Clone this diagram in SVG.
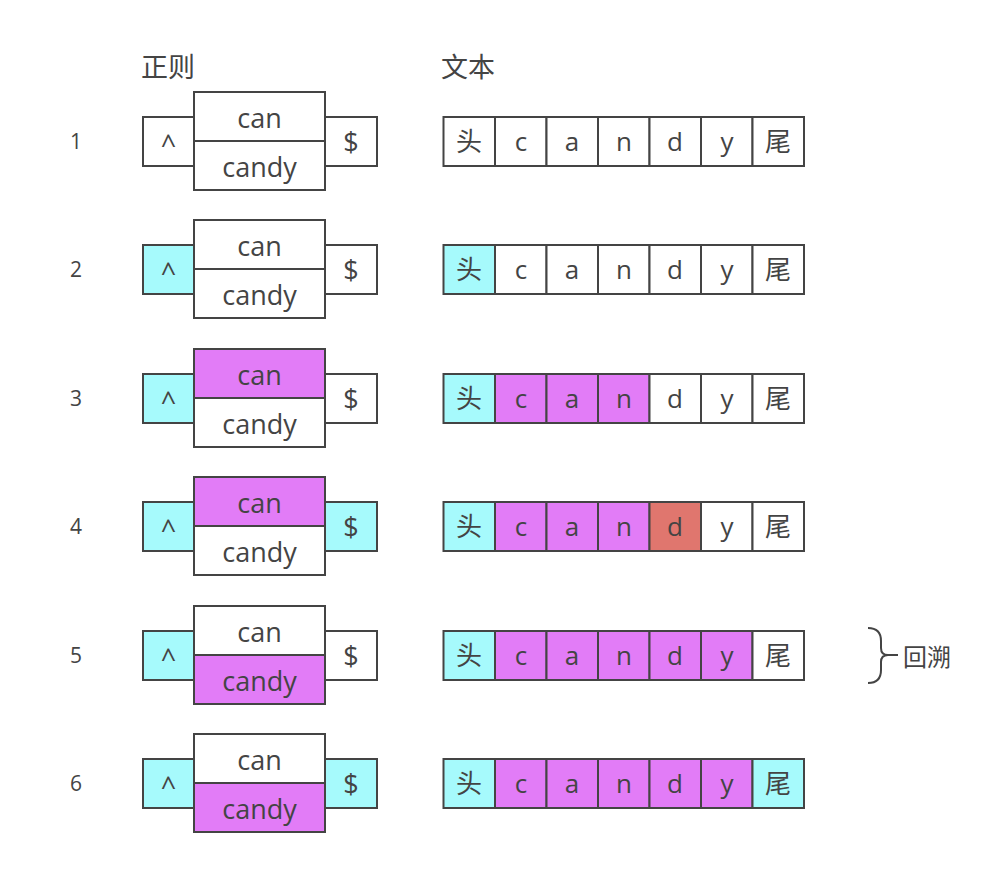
<svg xmlns="http://www.w3.org/2000/svg" width="1004" height="878" viewBox="0 0 1004 878">
<style>
.b{stroke:#444;stroke-width:2;fill:#fff}
.c{fill:#a6fafc}
.m{fill:#e27cf7}
.r{fill:#e0766e}
text{font-family:"Open Sans","Noto Sans CJK SC",sans-serif;fill:#444;text-anchor:middle;dominant-baseline:central}
.t{font-size:27px}
.x{font-size:26px}
.n{font-size:21px}
.h{font-size:27px;text-anchor:start}
.k{font-size:24px;text-anchor:start}
</style>
<rect width="1004" height="878" fill="#fff"/>
<text class="h" x="141" y="66">正则</text>
<text class="h" x="441" y="66">文本</text>

<g id="row1">
<text class="n" x="76" y="141">1</text>
<rect class="b" x="143" y="117" width="51" height="49"/>
<rect class="b" x="325" y="117" width="52" height="49"/>
<rect class="b" x="194" y="92" width="131" height="49"/>
<rect class="b" x="194" y="141" width="131" height="49"/>
<text class="t" x="168.5" y="143">^</text>
<text class="t" x="259.5" y="117">can</text>
<text class="t" x="259.5" y="166">candy</text>
<text class="t" x="351" y="141">$</text>
<rect class="b" x="443.5" y="117" width="51.5" height="49"/><rect class="b" x="495" y="117" width="51.5" height="49"/><rect class="b" x="546.5" y="117" width="51.5" height="49"/><rect class="b" x="598" y="117" width="51.5" height="49"/><rect class="b" x="649.5" y="117" width="51.5" height="49"/><rect class="b" x="701" y="117" width="51.5" height="49"/><rect class="b" x="752.5" y="117" width="51.5" height="49"/>
<text class="x" x="469" y="141">头</text><text class="x" x="521" y="141">c</text><text class="x" x="572" y="141">a</text><text class="x" x="624" y="141">n</text><text class="x" x="675" y="141">d</text><text class="x" x="727" y="141">y</text><text class="x" x="778" y="141">尾</text>
</g>

<g id="row2" transform="translate(0,128)">
<text class="n" x="76" y="141">2</text>
<rect class="b c" x="143" y="117" width="51" height="49"/>
<rect class="b" x="325" y="117" width="52" height="49"/>
<rect class="b" x="194" y="92" width="131" height="49"/>
<rect class="b" x="194" y="141" width="131" height="49"/>
<text class="t" x="168.5" y="143">^</text>
<text class="t" x="259.5" y="117">can</text>
<text class="t" x="259.5" y="166">candy</text>
<text class="t" x="351" y="141">$</text>
<rect class="b c" x="443.5" y="117" width="51.5" height="49"/><rect class="b" x="495" y="117" width="51.5" height="49"/><rect class="b" x="546.5" y="117" width="51.5" height="49"/><rect class="b" x="598" y="117" width="51.5" height="49"/><rect class="b" x="649.5" y="117" width="51.5" height="49"/><rect class="b" x="701" y="117" width="51.5" height="49"/><rect class="b" x="752.5" y="117" width="51.5" height="49"/>
<text class="x" x="469" y="141">头</text><text class="x" x="521" y="141">c</text><text class="x" x="572" y="141">a</text><text class="x" x="624" y="141">n</text><text class="x" x="675" y="141">d</text><text class="x" x="727" y="141">y</text><text class="x" x="778" y="141">尾</text>
</g>

<g id="row3" transform="translate(0,257)">
<text class="n" x="76" y="141">3</text>
<rect class="b c" x="143" y="117" width="51" height="49"/>
<rect class="b" x="325" y="117" width="52" height="49"/>
<rect class="b m" x="194" y="92" width="131" height="49"/>
<rect class="b" x="194" y="141" width="131" height="49"/>
<text class="t" x="168.5" y="143">^</text>
<text class="t" x="259.5" y="117">can</text>
<text class="t" x="259.5" y="166">candy</text>
<text class="t" x="351" y="141">$</text>
<rect class="b c" x="443.5" y="117" width="51.5" height="49"/><rect class="b m" x="495" y="117" width="51.5" height="49"/><rect class="b m" x="546.5" y="117" width="51.5" height="49"/><rect class="b m" x="598" y="117" width="51.5" height="49"/><rect class="b" x="649.5" y="117" width="51.5" height="49"/><rect class="b" x="701" y="117" width="51.5" height="49"/><rect class="b" x="752.5" y="117" width="51.5" height="49"/>
<text class="x" x="469" y="141">头</text><text class="x" x="521" y="141">c</text><text class="x" x="572" y="141">a</text><text class="x" x="624" y="141">n</text><text class="x" x="675" y="141">d</text><text class="x" x="727" y="141">y</text><text class="x" x="778" y="141">尾</text>
</g>

<g id="row4" transform="translate(0,385)">
<text class="n" x="76" y="141">4</text>
<rect class="b c" x="143" y="117" width="51" height="49"/>
<rect class="b c" x="325" y="117" width="52" height="49"/>
<rect class="b m" x="194" y="92" width="131" height="49"/>
<rect class="b" x="194" y="141" width="131" height="49"/>
<text class="t" x="168.5" y="143">^</text>
<text class="t" x="259.5" y="117">can</text>
<text class="t" x="259.5" y="166">candy</text>
<text class="t" x="351" y="141">$</text>
<rect class="b c" x="443.5" y="117" width="51.5" height="49"/><rect class="b m" x="495" y="117" width="51.5" height="49"/><rect class="b m" x="546.5" y="117" width="51.5" height="49"/><rect class="b m" x="598" y="117" width="51.5" height="49"/><rect class="b r" x="649.5" y="117" width="51.5" height="49"/><rect class="b" x="701" y="117" width="51.5" height="49"/><rect class="b" x="752.5" y="117" width="51.5" height="49"/>
<text class="x" x="469" y="141">头</text><text class="x" x="521" y="141">c</text><text class="x" x="572" y="141">a</text><text class="x" x="624" y="141">n</text><text class="x" x="675" y="141">d</text><text class="x" x="727" y="141">y</text><text class="x" x="778" y="141">尾</text>
</g>

<g id="row5" transform="translate(0,514)">
<text class="n" x="76" y="141">5</text>
<rect class="b c" x="143" y="117" width="51" height="49"/>
<rect class="b" x="325" y="117" width="52" height="49"/>
<rect class="b" x="194" y="92" width="131" height="49"/>
<rect class="b m" x="194" y="141" width="131" height="49"/>
<text class="t" x="168.5" y="143">^</text>
<text class="t" x="259.5" y="117">can</text>
<text class="t" x="259.5" y="166">candy</text>
<text class="t" x="351" y="141">$</text>
<rect class="b c" x="443.5" y="117" width="51.5" height="49"/><rect class="b m" x="495" y="117" width="51.5" height="49"/><rect class="b m" x="546.5" y="117" width="51.5" height="49"/><rect class="b m" x="598" y="117" width="51.5" height="49"/><rect class="b m" x="649.5" y="117" width="51.5" height="49"/><rect class="b m" x="701" y="117" width="51.5" height="49"/><rect class="b" x="752.5" y="117" width="51.5" height="49"/>
<text class="x" x="469" y="141">头</text><text class="x" x="521" y="141">c</text><text class="x" x="572" y="141">a</text><text class="x" x="624" y="141">n</text><text class="x" x="675" y="141">d</text><text class="x" x="727" y="141">y</text><text class="x" x="778" y="141">尾</text>
</g>

<g id="row6" transform="translate(0,642)">
<text class="n" x="76" y="141">6</text>
<rect class="b c" x="143" y="117" width="51" height="49"/>
<rect class="b c" x="325" y="117" width="52" height="49"/>
<rect class="b" x="194" y="92" width="131" height="49"/>
<rect class="b m" x="194" y="141" width="131" height="49"/>
<text class="t" x="168.5" y="143">^</text>
<text class="t" x="259.5" y="117">can</text>
<text class="t" x="259.5" y="166">candy</text>
<text class="t" x="351" y="141">$</text>
<rect class="b c" x="443.5" y="117" width="51.5" height="49"/><rect class="b m" x="495" y="117" width="51.5" height="49"/><rect class="b m" x="546.5" y="117" width="51.5" height="49"/><rect class="b m" x="598" y="117" width="51.5" height="49"/><rect class="b m" x="649.5" y="117" width="51.5" height="49"/><rect class="b m" x="701" y="117" width="51.5" height="49"/><rect class="b c" x="752.5" y="117" width="51.5" height="49"/>
<text class="x" x="469" y="141">头</text><text class="x" x="521" y="141">c</text><text class="x" x="572" y="141">a</text><text class="x" x="624" y="141">n</text><text class="x" x="675" y="141">d</text><text class="x" x="727" y="141">y</text><text class="x" x="778" y="141">尾</text>
</g>

<g id="brace">
<path d="M868,628 Q881,628 881,641 L881,648 Q881,655 888,655 L898,655 M888,655 Q881,655 881,662 L881,670 Q881,683 868,683" fill="none" stroke="#444" stroke-width="2"/>
<text class="k" x="903" y="656">回溯</text>
</g>
</svg>
